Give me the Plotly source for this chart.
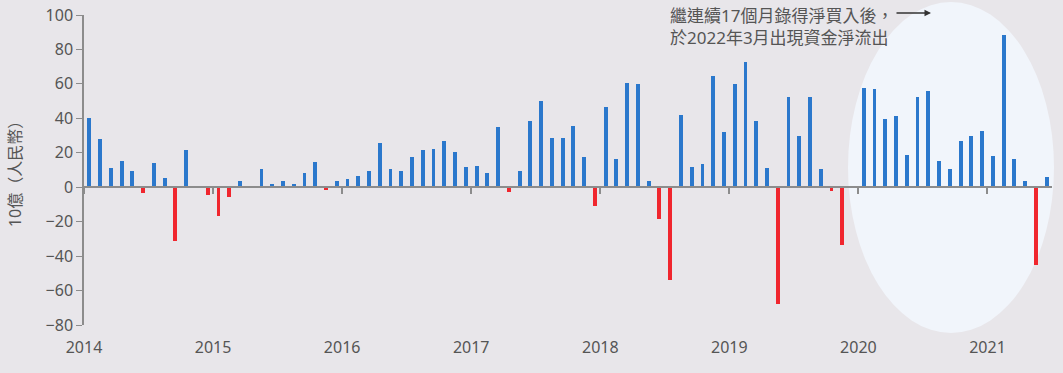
import plotly.graph_objects as go

years = ["2014", "2015", "2016", "2017", "2018", "2019", "2020", "2021"]
v2014 = [40, 28, 11, 15.5, 9.5, -3.5, 14, 5.5, -31.5, 21.5, 1, -4.5]
v2015 = [-16.5, -5.5, 3.5, 0, 10.6, 2, 3.6, 2, 8.3, 14.6, -1.7, 3.6]
v2016 = [4.9, 6.4, 9.3, 25.8, 10.6, 9.7, 17.5, 21.8, 22.3, 26.6, 20.5, 11.6]
v2017 = [12.2, 8.3, 34.8, -2.7, 9.3, 38.3, 50.3, 28.3, 28.3, 35.4, 17.6, -10.8]
v2018 = [46.4, 16.1, 60.6, 60, 3.9, -18.2, -53.8, 42.2, 11.6, 13.2, 64.3, 31.9]
v2019 = [60, 72.6, 38.3, 11.2, -67.7, 52.6, 30, 52.3, 10.3, -2.3, -33.3, 0]
v2020 = [57.7, 57.1, 39.9, 41.2, 18.6, 52.3, 55.7, 15.1, 10.6, 26.7, 30, 32.5]
v2021 = [18.2, 88.6, 16.5, 3.5, -45.1, 6]

y_ticks = [-80, -60, -40, -20, 0, 20, 40, 60, 80, 100]
y_title = "10億（人民幣）"
note = "繼連續17個月錄得淨買入後，<br>於2022年3月出現資金淨流出"

values = v2014 + v2015 + v2016 + v2017 + v2018 + v2019 + v2020 + v2021
months = [i + 0.5 for i in range(len(values))]

BLUE = "#2B78CC"
RED = "#F0262E"
BG = "#E8E6EA"
GRAY = "#8C8C8C"
TXT = "#555555"
FONT = "Noto Sans, Noto Sans CJK TC, sans-serif"

colors = [BLUE if v >= 0 else RED for v in values]

fig = go.Figure()
fig.add_trace(go.Bar(x=months, y=values, marker=dict(color=colors, line=dict(width=0)),
                     width=0.36, xaxis="x2", yaxis="y", showlegend=False))
fig.add_trace(go.Scatter(x=[0], y=[0], mode="markers", marker=dict(opacity=0),
                         xaxis="x", yaxis="y", showlegend=False, hoverinfo="skip"))

xr = [0, 90]
fig.update_layout(
    width=1063, height=373,
    margin=dict(l=84, r=11, t=15, b=48),
    paper_bgcolor=BG, plot_bgcolor=BG,
    font=dict(family=FONT, size=16, color=TXT),
    xaxis=dict(range=xr, tickvals=[12 * i for i in range(len(years))], ticktext=years,
               ticks="outside", ticklen=8, tickcolor="rgba(0,0,0,0)",
               showline=False, showgrid=False, zeroline=False, automargin=False,
               tickfont=dict(size=16, color=TXT)),
    xaxis2=dict(range=xr, overlaying="x", anchor="free", position=80 / 180,
                tickvals=[12 * i for i in range(len(years))],
                ticks="outside", ticklen=6, tickcolor=GRAY, tickwidth=1.5,
                showticklabels=False, showline=True, linecolor=GRAY, linewidth=2,
                showgrid=False, zeroline=False, automargin=False),
    yaxis=dict(range=[-80, 100], tickvals=y_ticks, ticks="outside", ticklen=6,
               tickcolor=GRAY, showline=True, linecolor=GRAY, linewidth=1.5,
               showgrid=False, zeroline=False, tickfont=dict(size=16, color=TXT),
               automargin=False,
               title=dict(text=y_title, font=dict(size=16, color=TXT), standoff=20)),
    bargap=0,
)

px0, px1, py0, py1 = 84, 1052, 325, 15
def px(x):
    return (x - px0) / (px1 - px0)
def py(y):
    return (py0 - y) / (py0 - py1)

fig.add_shape(type="circle", xref="paper", yref="paper",
              x0=px(848), x1=px(1054), y0=py(333), y1=py(2),
              fillcolor="#F1F5FB", line=dict(width=0), layer="below")

fig.add_annotation(xref="paper", yref="paper", x=px(668), y=py(2),
                   xanchor="left", yanchor="top", align="left", showarrow=False,
                   text=note, font=dict(size=17, color=TXT, family=FONT))
fig.add_annotation(xref="paper", yref="paper", x=px(931), y=py(13), ax=-36, ay=0,
                   text="", showarrow=True, arrowhead=2, arrowsize=1, arrowwidth=1.3,
                   arrowcolor="#333333")

fig.write_html("out.html", config={"displayModeBar": False},
               post_script="document.body.style.margin='0';")
